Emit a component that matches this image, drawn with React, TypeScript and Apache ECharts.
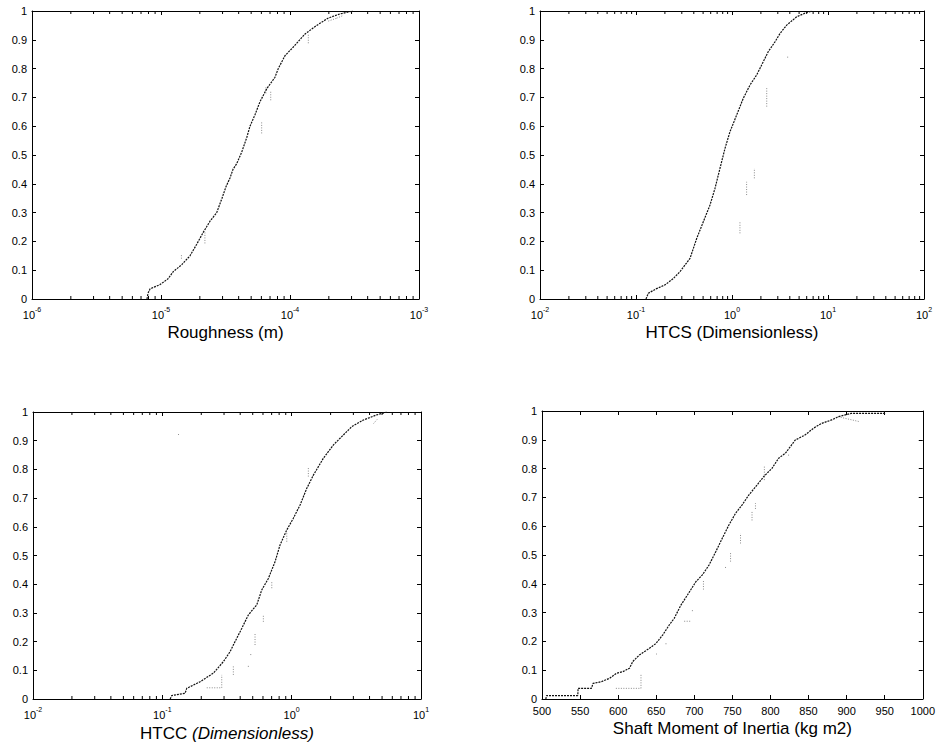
import React, { useEffect, useRef } from "react";
import * as echarts from "echarts";

const roughnessX = [7.79e-6, 7.93e-6, 8.22e-6, 9.82e-6, 1.133e-5, 1.245e-5, 1.455e-5, 1.678e-5, 1.891e-5, 2.116e-5, 2.397e-5, 2.703e-5, 2.971e-5, 3.19e-5, 3.426e-5, 3.614e-5, 3.861e-5, 4.222e-5, 4.617e-5, 4.896e-5, 5.354e-5, 5.853e-5, 6.598e-5, 7.65e-5, 8.11e-5, 9.15e-5, 1.061e-4, 1.307e-4, 1.61e-4, 1.97e-4, 2.44e-4, 3.08e-4];
const roughnessF = [0, 0.02, 0.035, 0.05, 0.07, 0.095, 0.12, 0.15, 0.19, 0.23, 0.27, 0.3, 0.35, 0.39, 0.42, 0.45, 0.47, 0.51, 0.56, 0.6, 0.64, 0.685, 0.73, 0.77, 0.8, 0.845, 0.875, 0.92, 0.95, 0.975, 0.99, 1.0];

const htcsX = [0.1271, 0.1343, 0.1615, 0.2004, 0.2428, 0.2872, 0.3652, 0.4287, 0.5023, 0.5898, 0.665, 0.75, 0.8456, 0.9532, 1.119, 1.311, 1.54, 1.808, 2.118, 2.388, 2.805, 3.162, 3.714, 4.72, 6.0, 6.81];
const htcsF = [0, 0.02, 0.035, 0.049, 0.07, 0.095, 0.141, 0.21, 0.268, 0.326, 0.384, 0.454, 0.523, 0.581, 0.639, 0.697, 0.743, 0.778, 0.824, 0.859, 0.893, 0.922, 0.951, 0.98, 0.995, 1.0];

const htccX = [0.115, 0.1182, 0.15, 0.1544, 0.1957, 0.2479, 0.2963, 0.3339, 0.365, 0.4112, 0.4625, 0.5372, 0.5871, 0.6603, 0.7437, 0.8134, 0.9165, 1.031, 1.161, 1.309, 1.472, 1.759, 2.101, 2.511, 2.916, 3.585, 4.551, 5.438];
const htccF = [0, 0.012, 0.02, 0.037, 0.06, 0.09, 0.13, 0.165, 0.2, 0.246, 0.293, 0.328, 0.38, 0.42, 0.478, 0.537, 0.589, 0.63, 0.676, 0.734, 0.78, 0.839, 0.885, 0.92, 0.949, 0.972, 0.99, 1.0];

const inertiaX = [505, 506, 547, 547.4, 564.9, 567, 577.9, 588.8, 597.5, 606.1, 614.9, 619.2, 627.9, 641, 649.7, 658.4, 667.1, 673.6, 682.4, 691, 702, 710.6, 719.3, 728.1, 736.7, 745.4, 754.2, 762.8, 771.5, 782.4, 791.1, 802, 810.7, 819.5, 832.5, 845.6, 856.4, 867.2, 880.3, 889, 906.4, 950, 950];
const inertiaF = [0, 0.012, 0.012, 0.037, 0.037, 0.054, 0.06, 0.072, 0.089, 0.095, 0.107, 0.13, 0.153, 0.176, 0.193, 0.222, 0.257, 0.28, 0.326, 0.361, 0.407, 0.431, 0.465, 0.511, 0.558, 0.604, 0.645, 0.674, 0.708, 0.743, 0.772, 0.801, 0.836, 0.853, 0.899, 0.917, 0.94, 0.957, 0.969, 0.98, 0.992, 0.992, 1.0];

// faint secondary traces: [x1, F1, x2, F2]
const roughnessGhost = [
  [1.44e-5, 0.14, 1.44e-5, 0.155],
  [2.19e-5, 0.193, 2.19e-5, 0.234],
  [6.03e-5, 0.575, 6.03e-5, 0.616],
  [6.5e-5, 0.714, 6.5e-5, 0.737],
  [7.09e-5, 0.69, 7.09e-5, 0.72],
  [1.387e-4, 0.888, 1.387e-4, 0.922],
  [1.98e-4, 0.965, 2.3e-4, 0.975],
  [2.3e-4, 0.975, 2.6e-4, 0.985],
];
const htcsGhost = [
  [1.21, 0.228, 1.21, 0.268],
  [1.42, 0.361, 1.42, 0.407],
  [1.71, 0.419, 1.71, 0.454],
  [2.3, 0.668, 2.3, 0.732],
  [3.8, 0.838, 3.8, 0.844],
];
const htccGhost = [
  [0.133, 0.92, 0.134, 0.924],
  [0.2205, 0.039, 0.288, 0.039],
  [0.288, 0.039, 0.288, 0.084],
  [0.354, 0.084, 0.354, 0.118],
  [0.4625, 0.112, 0.4627, 0.118],
  [0.4827, 0.153, 0.4827, 0.159],
  [0.521, 0.188, 0.521, 0.229],
  [0.604, 0.269, 0.604, 0.293],
  [0.702, 0.386, 0.702, 0.409],
  [0.9165, 0.548, 0.9165, 0.583],
  [1.346, 0.775, 1.346, 0.809],
  [4.3, 0.96, 4.6, 0.975],
];
const inertiaGhost = [
  [597, 0.037, 630, 0.037],
  [630, 0.037, 630, 0.085],
  [649.7, 0.155, 652, 0.159],
  [662.8, 0.19, 662.8, 0.194],
  [686.7, 0.27, 695.4, 0.27],
  [697.5, 0.305, 697.5, 0.31],
  [712, 0.38, 712, 0.41],
  [741, 0.455, 741, 0.462],
  [747.6, 0.477, 747.6, 0.511],
  [760.7, 0.54, 760.7, 0.575],
  [775.8, 0.62, 775.8, 0.65],
  [780.3, 0.66, 780.3, 0.68],
  [792, 0.76, 792, 0.81],
  [823.8, 0.845, 823.8, 0.849],
  [889, 0.98, 917, 0.963],
];

const yTicks = [0, 0.1, 0.2, 0.3, 0.4, 0.5, 0.6, 0.7, 0.8, 0.9, 1];
const xNames = ["Roughness (m)", "HTCS (Dimensionless)", "HTCC {i|(Dimensionless)}", "Shaft Moment of Inertia (kg m2)"];

// ---------- layout ----------
const FONT = "'Liberation Sans', Arial, Helvetica, sans-serif";
const panels = [
  { grid: { left: 32, top: 11, width: 387, height: 288 }, log: true, min: 1e-6, max: 1e-3, x: roughnessX, f: roughnessF, ghost: roughnessGhost, nameGap: 25 },
  { grid: { left: 540, top: 11, width: 384, height: 288 }, log: true, min: 1e-2, max: 1e2, x: htcsX, f: htcsF, ghost: htcsGhost, nameGap: 25 },
  { grid: { left: 33, top: 412, width: 388, height: 287 }, log: true, min: 1e-2, max: 1e1, x: htccX, f: htccF, ghost: htccGhost, nameGap: 26 },
  { grid: { left: 542, top: 411, width: 383, height: 288 }, log: false, min: 500, max: 1000, x: inertiaX, f: inertiaF, ghost: inertiaGhost, nameGap: 21 },
];

function minorTicks(min: number, max: number): number[] {
  const out: number[] = [];
  for (let e = Math.round(Math.log10(min)); e < Math.round(Math.log10(max)); e++) {
    for (let m = 2; m <= 9; m++) out.push(m * Math.pow(10, e));
  }
  return out;
}

const mkLine = () => ({ show: true, onZero: false, lineStyle: { color: "#000", width: 1 } });
const mkTick = () => ({ show: true, inside: true, length: 4, lineStyle: { color: "#000", width: 1 } });

function buildOption() {
  const grid: any[] = [];
  const xAxis: any[] = [];
  const yAxis: any[] = [];
  const series: any[] = [];

  panels.forEach((p, i) => {
    grid.push({ ...p.grid, containLabel: false, show: false });
    const base = () =>
      p.log
        ? { type: "log", logBase: 10, min: p.min, max: p.max }
        : { type: "value", min: p.min, max: p.max, interval: 50 };
    xAxis.push({
      ...base(),
      gridIndex: i,
      position: "bottom",
      axisLine: mkLine(),
      axisTick: mkTick(),
      splitLine: { show: false },
      name: xNames[i],
      nameLocation: "middle",
      nameGap: p.nameGap,
      nameTextStyle: {
        fontFamily: FONT,
        fontSize: 17,
        color: "#000",
        rich: { i: { fontFamily: FONT, fontSize: 17, fontStyle: "italic", color: "#000" } },
      },
      axisLabel: p.log
        ? {
            margin: 7,
            color: "#000",
            fontFamily: FONT,
            formatter: (v: number) => `{b|10}{s|${Math.round(Math.log10(v))}}`,
            rich: {
              b: { fontFamily: FONT, fontSize: 11, color: "#000", lineHeight: 14, verticalAlign: "bottom" },
              s: { fontFamily: FONT, fontSize: 7, color: "#000", lineHeight: 8, verticalAlign: "top" },
            },
          }
        : {
            margin: 6,
            lineHeight: 11,
            color: "#000",
            fontFamily: FONT,
            fontSize: 11,
            showMaxLabel: true,
            showMinLabel: true,
            formatter: (v: number) => String(Math.round(v)),
          },
    });
    xAxis.push({
      ...base(),
      gridIndex: i,
      position: "top",
      axisLine: mkLine(),
      axisTick: mkTick(),
      axisLabel: { show: false },
      splitLine: { show: false },
    });
    yAxis.push({
      type: "value",
      gridIndex: i,
      min: 0,
      max: 1,
      interval: 0.1,
      position: "left",
      axisLine: mkLine(),
      axisTick: mkTick(),
      splitLine: { show: false },
      axisLabel: {
        margin: 5,
        lineHeight: 11,
        color: "#000",
        fontFamily: FONT,
        fontSize: 11,
        formatter: (v: number) => String(yTicks.find((t) => Math.abs(t - v) < 1e-6) ?? v),
      },
    });
    yAxis.push({
      type: "value",
      gridIndex: i,
      min: 0,
      max: 1,
      interval: 0.1,
      position: "right",
      axisLine: mkLine(),
      axisTick: mkTick(),
      axisLabel: { show: false },
      splitLine: { show: false },
    });

    // faint secondary traces
    series.push({
      type: "custom",
      xAxisIndex: i * 2,
      yAxisIndex: i * 2,
      silent: true,
      data: p.ghost,
      renderItem: (_params: any, api: any) => {
        const a = api.coord([api.value(0), api.value(1)]);
        const b = api.coord([api.value(2), api.value(3)]);
        return {
          type: "line",
          shape: { x1: a[0], y1: a[1], x2: b[0], y2: b[1] },
          style: { stroke: "#8a8a8a", lineWidth: 1, lineDash: [1, 1.5] },
        };
      },
    });

    // main empirical CDF
    series.push({
      type: "line",
      xAxisIndex: i * 2,
      yAxisIndex: i * 2,
      data: p.x.map((x, k) => [x, p.f[k]]),
      showSymbol: false,
      smooth: false,
      silent: true,
      lineStyle: { color: "#111", width: 1.2, type: [2, 1] },
    });

    // log minor ticks (bottom + top)
    if (p.log) {
      series.push({
        type: "custom",
        xAxisIndex: i * 2,
        yAxisIndex: i * 2,
        silent: true,
        clip: false,
        data: minorTicks(p.min, p.max).map((v) => [v, 0]),
        renderItem: (_params: any, api: any) => {
          const v = api.value(0);
          const b = api.coord([v, 0]);
          const t = api.coord([v, 1]);
          return {
            type: "group",
            children: [
              { type: "line", shape: { x1: b[0], y1: b[1], x2: b[0], y2: b[1] - 3 }, style: { stroke: "#000", lineWidth: 1 } },
              { type: "line", shape: { x1: t[0], y1: t[1], x2: t[0], y2: t[1] + 3 }, style: { stroke: "#000", lineWidth: 1 } },
            ],
          };
        },
      });
    }
  });

  return {
    animation: false,
    backgroundColor: "#fff",
    textStyle: { fontFamily: FONT },
    grid,
    xAxis,
    yAxis,
    series,
  };
}

export default function App() {
  const ref = useRef<HTMLDivElement>(null);
  useEffect(() => {
    if (!ref.current) return;
    const chart = echarts.init(ref.current, undefined, { renderer: "svg" });
    chart.setOption(buildOption() as any);
    return () => chart.dispose();
  }, []);
  return (
    <div
      ref={ref}
      style={{ position: "absolute", left: 0, top: 0, width: 938, height: 744, background: "#fff" }}
    />
  );
}
